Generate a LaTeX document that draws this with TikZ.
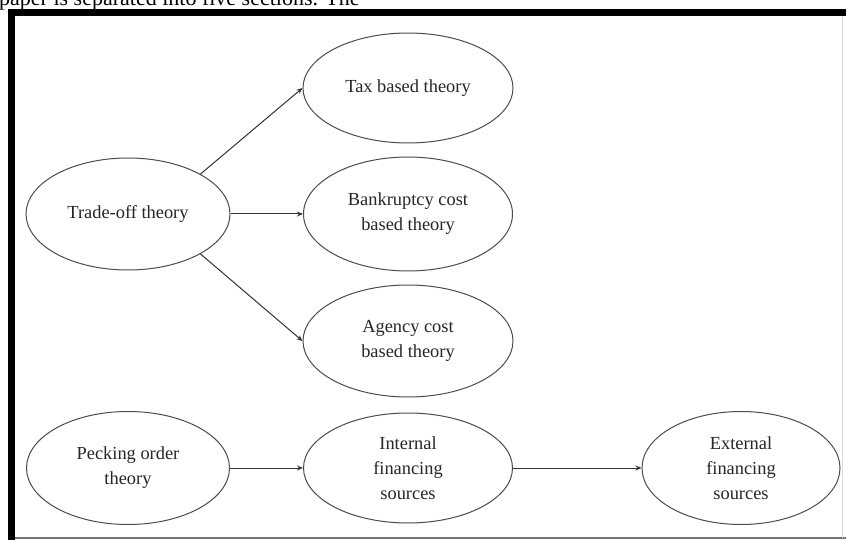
\documentclass[tikz,border=0pt]{standalone}
\usepackage{fontspec}
\setmainfont{Liberation Serif}
\usetikzlibrary{shapes.geometric,arrows.meta}
\begin{document}
\begin{tikzpicture}[x=1pt,y=-1pt,
  oval/.style={ellipse,draw=black!70,line width=1pt,inner sep=0pt,align=center,
    font=\fontsize{18.4}{25}\selectfont,text=black!85},
  link/.style={draw=black!80,line width=1pt,-{Stealth[length=6pt,width=5pt]}}]
\useasboundingbox (0,0) rectangle (846,540);
\fill[white] (0,0) rectangle (846,540);
% page text cut at top
\node[anchor=base west,inner sep=0pt,font=\fontsize{22}{26}\selectfont] (pagetext) at (-1,6) {paper is separated into five sections. The};
% frame
\fill[black] (8,9) rectangle (846,16);
\fill[black] (8,9) rectangle (15,540);
\draw[black!55,line width=1.5pt] (15,538) -- (846,538);
\draw[black!15,line width=1pt] (842,16) -- (842,538);
% nodes
\node[oval,minimum width=204pt,minimum height=112pt] (trade) at (128,214) {Trade-off theory};
\node[oval,minimum width=210pt,minimum height=110pt] (tax) at (408,88) {Tax based theory};
\node[oval,minimum width=209pt,minimum height=114pt] (bank) at (408,214) {Bankruptcy cost\\based theory};
\node[oval,minimum width=210pt,minimum height=112pt] (agency) at (408,341) {Agency cost\\based theory};
\node[oval,minimum width=203pt,minimum height=113pt] (peck) at (128,468) {Pecking order\\theory};
\node[oval,minimum width=209pt,minimum height=110pt] (internal) at (408,468) {Internal\\financing\\sources};
\node[oval,minimum width=198pt,minimum height=113pt] (external) at (741,468) {External\\financing\\sources};
% connectors
\draw[link] (trade.north east) -- (tax.west);
\draw[link] (trade.east) -- (bank.west);
\draw[link] (trade.south east) -- (agency.west);
\draw[link] (peck.east) -- (internal.west);
\draw[link] (internal.east) -- (external.west);
\end{tikzpicture}
\end{document}
